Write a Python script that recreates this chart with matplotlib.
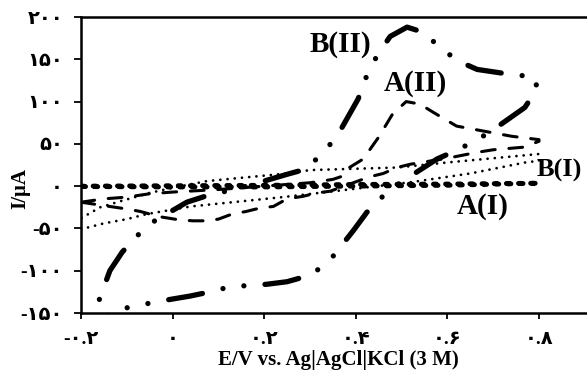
import matplotlib
matplotlib.use("Agg")
import matplotlib.pyplot as plt

# cyclic voltammograms
aI_x = [-0.2, 0.0, 0.2, 0.4, 0.6, 0.8, 0.6, 0.4, 0.2, 0.0, -0.2]
aI_y = [0, 0.5, 1, 2, 2.5, 3.5, 1, 0, -1, -1, -0.5]

bI_x = [-0.2, -0.15, -0.1, -0.056, 0.04, 0.24, 0.4, 0.525, 0.65, 0.77, 0.8,
        0.8, 0.7, 0.6, 0.49, 0.3, 0.25, 0.075, 0.0, -0.05, -0.115, -0.158, -0.2]
bI_y = [-51, -44, -39, -33, -24, -13, -3, 5, 15, 28, 30,
        38, 33, 28, 22, 19, 15, 6, -2, -8, -18, -25, -38]

aII_x = [-0.2, -0.15, -0.1, -0.05, 0.0, 0.1, 0.2, 0.3, 0.35, 0.372, 0.38, 0.416,
         0.45, 0.48, 0.51, 0.54, 0.57, 0.62, 0.69, 0.74, 0.8,
         0.8, 0.765, 0.7, 0.665, 0.6, 0.52, 0.49, 0.46, 0.43, 0.344, 0.315,
         0.285, 0.25, 0.22, 0.19, 0.16, 0.13, 0.1, 0.075, 0.045, 0.016,
         -0.03, -0.07, -0.1, -0.15, -0.2]
aII_y = [-19, -15, -13, -9, -7, -4, 0, 4, 8, 12, 20, 32,
         58, 85, 100, 97, 87, 71, 64, 59, 55,
         53, 46, 43, 40, 33, 26, 22, 15, 11, -6, -8,
         -12, -15, -24, -26, -30, -33, -39, -41, -41, -40,
         -36, -30, -27, -23, -19]

bII_x = [-0.2, -0.13, -0.086, -0.006, 0.038, 0.082, 0.125, 0.206, 0.25, 0.296,
         0.337, 0.394, 0.424, 0.459, 0.497, 0.577, 0.61, 0.656, 0.693, 0.769,
         0.796, 0.79, 0.752, 0.665, 0.623, 0.584, 0.547, 0.512, 0.475, 0.446,
         0.422, 0.405, 0.359, 0.326, 0.29, 0.25, 0.162, 0.071, 0.031, -0.045,
         -0.078, -0.11, -0.137, -0.17, -0.2]
bII_y = [-178, -148, -142, -134, -130, -125, -119, -116, -113, -106,
         -92, -53, -31, -12, 4, 32, 40, 52, 64, 93,
         115, 130, 131, 138, 148, 164, 182, 188, 177, 154,
         128, 103, 59, 38, 20, 14, 0, -12, -19, -43,
         -59, -78, -100, -149, -178]

xticks = [-0.2, 0, 0.2, 0.4, 0.6, 0.8]
yticks = [-150, -100, -50, 0, 50, 100, 150, 200]

fa = str.maketrans("0123456789", "۰۱۲۳۴۵۶۷۸۹")


def fa_num(v):
    s = "%g" % v if v != 0 else "0"
    return s.translate(fa)


fam = ["Liberation Serif", "DejaVu Sans"]

fig = plt.figure(figsize=(5.87, 3.73), dpi=100)
ax = fig.add_axes([81 / 587, 60 / 373, 549.6 / 587, 296 / 373])

ax.plot(aI_x, aI_y, color="black", lw=3.5, linestyle=(0, (0.6, 1.9)),
        dash_capstyle="round")
ax.plot(bI_x, bI_y, color="black", lw=2.0, linestyle=(0, (0.01, 2.6)),
        dash_capstyle="round")
ax.plot(aII_x, aII_y, color="black", lw=2.2, linestyle=(0, (4.5, 4.5)),
        dash_capstyle="round")
ax.plot(bII_x, bII_y, color="black", lw=3.8,
        linestyle=(0, (6.5, 4, 0.01, 4, 0.01, 4)), dash_capstyle="round")

ax.set_xlim(-0.2, 1.0)
ax.set_ylim(-150, 200)
ax.set_xticks(xticks)
ax.set_yticks(yticks)
ax.set_xticklabels([fa_num(v) for v in xticks], family=fam, fontweight="bold",
                   fontsize=14)
ax.set_yticklabels([fa_num(v) for v in yticks], family=fam, fontweight="bold",
                   fontsize=14)
ax.tick_params(axis="y", direction="out", length=5, width=1.3, pad=8)
ax.tick_params(axis="x", direction="out", length=4, width=1.3, pad=9)

for s in ["left", "bottom", "top"]:
    ax.spines[s].set_linewidth(1.8)
ax.spines["right"].set_visible(False)

ax.set_xlabel("E/V vs. Ag|AgCl|KCl (3 M)", family=fam, fontweight="bold",
              fontsize=15)
ax.xaxis.set_label_coords(0.468, -0.159)
ax.xaxis.label.set_va("center")
ax.set_ylabel("I/μA", family=fam, fontweight="bold", fontsize=15)
ax.yaxis.set_label_coords(-0.111, 0.422)
ax.yaxis.label.set_va("center")

lab = dict(family=fam, fontweight="bold", fontsize=21)
ax.text(0.366, 168, "B(II)", ha="center", va="center", **lab)
ax.text(0.531, 121, "A(II)", ha="center", va="center", **lab)
ax.text(0.795, 18, "B(I)", ha="left", va="center", family=fam,
        fontweight="bold", fontsize=19)
ax.text(0.676, -24, "A(I)", ha="center", va="center", **lab)

fig.savefig("out.png", dpi=100)
